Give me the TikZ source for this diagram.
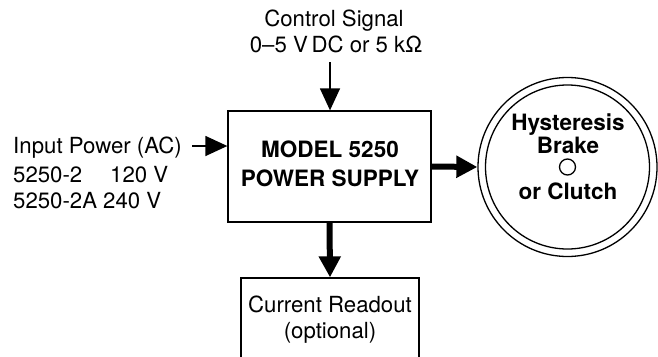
\documentclass[tikz,border=0pt]{standalone}
\usepackage{fontspec}
\setmainfont{TeX Gyre Heros}
\usetikzlibrary{arrows.meta}

\begin{document}
\begin{tikzpicture}[x=1pt,y=-1pt,
  txt/.style={inner sep=0pt,anchor=base,font=\fontsize{22.2}{26}\selectfont},
  bold/.style={txt,font=\fontsize{22.5}{26}\selectfont\bfseries},
  frame/.style={draw,line width=1.3pt},
  thin/.style={line width=1.4pt,-{Triangle[length=22pt,width=20pt]}},
  fat/.style={line width=6pt,-{Triangle[length=21pt,width=21pt]}}]
\useasboundingbox (0,0) rectangle (658,356);

% power supply
\node[frame,minimum width=203pt,minimum height=111pt] (psu) at (329.5,166.5) {};
\node[bold] (model) at (330,157) {MODEL 5250};
\node[bold] (supply) at (330,186) {POWER SUPPLY};

% control input
\node[txt] (ctltitle) at (334,27) {Control Signal};
\node[txt] (ctlrange) at (336,52) {0–5 V\,DC or 5 kΩ};
\coordinate (ctl) at (330,62);
\draw[thin] (ctl) -- (ctl |- psu.north);

% mains input
\node[txt,anchor=base west] (input) at (13,153) {Input Power (AC)};
\node[txt,anchor=base west] (modela) at (13,182) {5250-2};
\node[txt,anchor=base west] (volta) at (110,182) {120 V};
\node[txt,anchor=base west] (modelb) at (13,208) {5250-2A};
\node[txt,anchor=base west] (voltb) at (103,208) {240 V};
\coordinate (inp) at (192,146);
\draw[thin] (inp) -- (inp -| psu.west);

% brake / clutch
\node[frame,circle,minimum size=179pt] (brake) at (567.5,167) {};
\node[frame,circle,minimum size=164pt] (brakein) at (brake.center) {};
\node[frame,circle,minimum size=16pt] (shaft) at (brake.center) {};
\node[bold] (hyst) at (568,130) {Hysteresis};
\node[bold] (brk) at (568,153) {Brake};
\node[bold] (clutch) at (568,199) {or Clutch};
\draw[fat] (psu.east) -- (brake.west);

% readout
\node[frame,minimum width=178pt,minimum height=102pt] (readout) at (330,329) {};
\node[txt] (cur) at (330,312) {Current Readout};
\node[txt] (opt) at (330,338) {(optional)};
\draw[fat] (psu.south) -- (readout.north);
\end{tikzpicture}
\end{document}
